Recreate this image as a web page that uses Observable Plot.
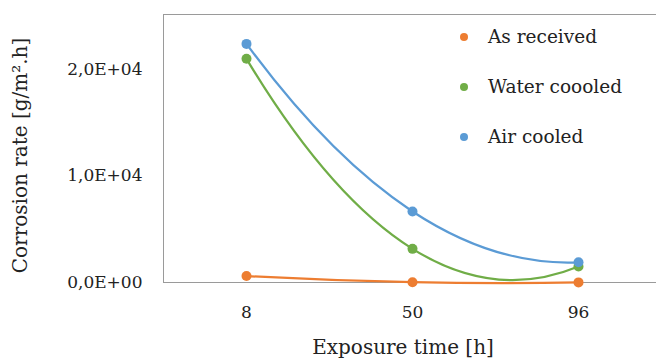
<!DOCTYPE html>
<html>
<head>
<meta charset="utf-8">
<script src="https://cdn.jsdelivr.net/npm/d3@7"></script>
<script src="https://cdn.jsdelivr.net/npm/@observablehq/plot@0.6"></script>
<style>
  html, body { margin: 0; padding: 0; background: #fff; overflow: hidden; }
  #wrap { position: relative; width: 656px; height: 358px; font-family: "DejaVu Serif", serif; color: #222; }
  #legend { position: absolute; left: 460px; top: 24px; font-size: 18.5px; }
  #legend .row { position: relative; height: 50px; line-height: 26px; }
  #legend .sw { position: absolute; left: 0; top: 9px; width: 8px; height: 8px; border-radius: 50%; }
  #legend .lb { position: absolute; left: 28px; top: 0; white-space: nowrap; }
</style>
</head>
<body>
<div id="wrap"><div id="chart"></div><div id="legend"></div></div>
<script>
const times = ["8", "50", "96"];
const seriesNames = ["As received", "Water coooled", "Air cooled"];
const asReceived = [610, 30, 10];
const waterCooled = [21000, 3160, 1500];
const airCooled = [22400, 6670, 1900];
const colors = ["#ED7D31", "#70AD47", "#5B9BD5"];
const yTicks = [0, 10000, 20000];
const xTitle = "Exposure time [h]";
const yTitle = "Corrosion rate [g/m\u00B2.h]";

const valuesBySeries = [asReceived, waterCooled, airCooled];
const rows = [];
seriesNames.forEach((s, i) => times.forEach((t, j) => rows.push({series: s, time: t, value: valuesBySeries[i][j]})));

// Excel-like smoothing: Catmull-Rom with quadratic extrapolated end points
function excelSmooth(context) {
  let pts = [];
  return {
    areaStart() {}, areaEnd() {},
    lineStart() { pts = []; },
    point(x, y) { pts.push([+x, +y]); },
    lineEnd() {
      const n = pts.length;
      if (!n) return;
      context.moveTo(pts[0][0], pts[0][1]);
      if (n === 1) return;
      if (n === 2) { context.lineTo(pts[1][0], pts[1][1]); return; }
      const P = (i) => {
        if (i < 0) return [0, 1].map(k => 3 * pts[0][k] - 3 * pts[1][k] + pts[2][k]);
        if (i >= n) return [0, 1].map(k => 3 * pts[n - 1][k] - 3 * pts[n - 2][k] + pts[n - 3][k]);
        return pts[i];
      };
      for (let i = 0; i < n - 1; i++) {
        const p0 = P(i - 1), p1 = P(i), p2 = P(i + 1), p3 = P(i + 2);
        context.bezierCurveTo(
          p1[0] + (p2[0] - p0[0]) / 6, p1[1] + (p2[1] - p0[1]) / 6,
          p2[0] - (p3[0] - p1[0]) / 6, p2[1] - (p3[1] - p1[1]) / 6,
          p2[0], p2[1]);
      }
    }
  };
}

function fmtE(d) {
  if (d === 0) return "0,0E+00";
  const e = Math.floor(Math.log10(Math.abs(d)));
  const m = (d / Math.pow(10, e)).toFixed(1).replace(".", ",");
  return m + "E" + (e < 0 ? "-" : "+") + String(Math.abs(e)).padStart(2, "0");
}

const marks = [
  Plot.frame({anchor: "top", stroke: "#9a9a9a"}),
  Plot.frame({anchor: "left", stroke: "#9a9a9a"}),
  Plot.frame({anchor: "bottom", stroke: "#9a9a9a"}),
  Plot.axisY({ticks: yTicks, tickFormat: fmtE, tickSize: 0, tickPadding: 21, label: null, fontSize: 17}),
  Plot.axisX({tickSize: 0, tickPadding: 23, label: null, fontSize: 17}),
  Plot.text([yTitle], {text: d => d, frameAnchor: "left", textAnchor: "middle", rotate: -90, lineAnchor: "top", dx: -151, dy: 7, fontSize: 20}),
  Plot.text([xTitle], {text: d => d, frameAnchor: "bottom", textAnchor: "middle", lineAnchor: "bottom", dx: -7, dy: 71, fontSize: 20})
];
seriesNames.forEach((s, i) => {
  const data = rows.filter(r => r.series === s);
  marks.push(Plot.line(data, {x: "time", y: "value", stroke: colors[i], strokeWidth: 2.25, curve: excelSmooth}));
  marks.push(Plot.dot(data, {x: "time", y: "value", fill: colors[i], r: 5}));
});

const chart = Plot.plot({
  width: 656,
  height: 358,
  marginTop: 14,
  marginBottom: 76,
  marginLeft: 163,
  marginRight: 0,
  style: {fontFamily: "DejaVu Serif, serif", fontSize: "17px", color: "#222", background: "#fff"},
  x: {type: "point", domain: times, range: [245.5, 577.5], padding: 0},
  y: {domain: [0, 25160]},
  marks
});
document.getElementById("chart").appendChild(chart);

const legend = document.getElementById("legend");
seriesNames.forEach((s, i) => {
  const row = document.createElement("div");
  row.className = "row";
  row.innerHTML = `<span class="sw" style="background:${colors[i]}"></span><span class="lb">${s}</span>`;
  legend.appendChild(row);
});
</script>
</body>
</html>
